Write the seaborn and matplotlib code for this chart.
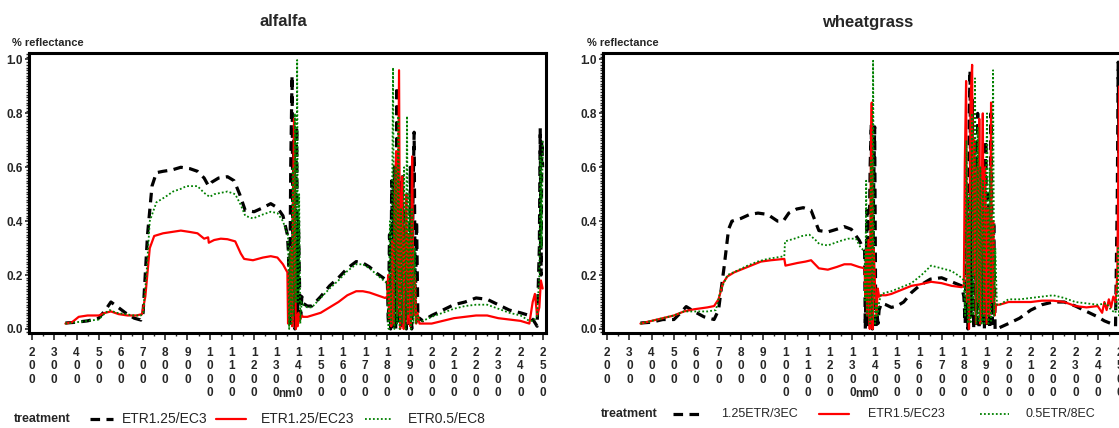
import matplotlib
matplotlib.use("Agg")
import matplotlib.pyplot as plt
import matplotlib.transforms as mtransforms
from matplotlib.lines import Line2D
from matplotlib.ticker import MultipleLocator
import seaborn as sns
import pandas as pd

# alfalfa - ETR1.25/EC3
alf_nm_1 = [350, 400, 450, 500, 530, 555, 580, 620, 660, 690, 700, 720, 740, 760, 790, 830, 870, 910, 945,
            975, 995, 1010, 1040, 1080, 1110, 1135, 1160, 1200, 1240, 1275, 1305, 1330, 1350,
            1355, 1360, 1365, 1371, 1375, 1380, 1384, 1388, 1392, 1396, 1400, 1405, 1410, 1415, 1421,
            1440, 1460, 1500, 1540, 1580, 1620, 1660, 1690, 1720, 1755, 1790,
            1800, 1805, 1810, 1815, 1820, 1826, 1832, 1838, 1844, 1850, 1856, 1862, 1868, 1874, 1880,
            1886, 1892, 1898, 1904, 1910, 1916, 1921, 1926, 1932, 1938, 1945,
            1960, 2000, 2050, 2100, 2150, 2200, 2250, 2300, 2350, 2400, 2440, 2460, 2475, 2485, 2489,
            2493, 2496, 2500]
alf_r_1 = [0.022, 0.025, 0.03, 0.04, 0.07, 0.10, 0.085, 0.06, 0.04, 0.033, 0.06, 0.35, 0.53, 0.58, 0.585,
           0.59, 0.60, 0.595, 0.585, 0.56, 0.53, 0.545, 0.56, 0.565, 0.55, 0.50, 0.44, 0.435, 0.45, 0.465,
           0.45, 0.42, 0.35,
           0.28, 0.02, 0.6, 0.94, 0.3, 0.7, 0.0, 0.5, 0.75, 0.02, 0.4, 0.15, 0.05, 0.12, 0.095,
           0.085, 0.085, 0.12, 0.16, 0.19, 0.225, 0.25, 0.245, 0.23, 0.205, 0.185,
           0.19, 0.02, 0.35, 0.0, 0.55, 0.01, 0.6, 0.0, 0.90, 0.02, 0.55, 0.0, 0.565, 0.02, 0.45,
           0.0, 0.3, 0.02, 0.6, 0.0, 0.5, 0.73, 0.05, 0.4, 0.03, 0.04,
           0.03, 0.05, 0.07, 0.09, 0.10, 0.115, 0.11, 0.09, 0.07, 0.06, 0.05, 0.03, 0.01, 0.3, 0.745,
           0.2, 0.7, 0.6]

# alfalfa - ETR1.25/EC23
alf_nm_2 = [350, 380, 410, 450, 500, 530, 555, 590, 630, 670, 695, 710, 730, 750, 790, 830, 870, 910, 945,
            975, 993, 996, 1020, 1050, 1080, 1115, 1140, 1155, 1195, 1240, 1275, 1305, 1330, 1350,
            1353, 1358, 1362, 1366, 1372, 1376, 1380, 1384, 1388, 1392, 1396, 1400, 1405, 1410, 1415, 1421,
            1440, 1460, 1500, 1540, 1580, 1620, 1660, 1690, 1720, 1755, 1790,
            1800, 1804, 1808, 1814, 1818, 1822, 1828, 1834, 1840, 1846, 1853, 1858, 1862, 1868, 1874,
            1880, 1886, 1892, 1898, 1904, 1908, 1912, 1918, 1924, 1930, 1936, 1945,
            1960, 2000, 2050, 2100, 2150, 2200, 2250, 2300, 2350, 2400, 2440, 2455, 2465, 2475, 2485,
            2492, 2500]
alf_r_2 = [0.02, 0.025, 0.045, 0.05, 0.05, 0.06, 0.065, 0.055, 0.05, 0.05, 0.055, 0.12, 0.30, 0.345, 0.355,
           0.36, 0.365, 0.36, 0.355, 0.335, 0.34, 0.32, 0.33, 0.335, 0.333, 0.325, 0.28, 0.26, 0.255, 0.265,
           0.27, 0.265, 0.24, 0.21,
           0.02, 0.2, 0.05, 0.3, 0.01, 0.5, 0.78, 0.3, 0.0, 0.05, 0.01, 0.06, 0.03, 0.04, 0.05, 0.045,
           0.045, 0.05, 0.06, 0.08, 0.10, 0.125, 0.14, 0.14, 0.135, 0.125, 0.115,
           0.12, 0.2, 0.04, 0.15, 0.01, 0.33, 0.02, 0.5, 0.66, 0.05, 0.96, 0.0, 0.4, 0.565, 0.0,
           0.3, 0.5, 0.02, 0.35, 0.01, 0.3, 0.64, 0.05, 0.2, 0.02, 0.06, 0.02,
           0.02, 0.02, 0.03, 0.04, 0.045, 0.05, 0.05, 0.04, 0.035, 0.03, 0.02, 0.1, 0.13, 0.05, 0.08,
           0.18, 0.15]

# alfalfa - ETR0.5/EC8
alf_nm_3 = [350, 400, 450, 500, 530, 550, 580, 620, 660, 690, 700, 715, 730, 760, 800, 835, 870, 895, 945,
            975, 1000, 1020, 1050, 1080, 1115, 1140, 1160, 1195, 1240, 1275, 1305, 1330, 1350,
            1353, 1358, 1363, 1368, 1374, 1378, 1384, 1389, 1394, 1398, 1403, 1408, 1414, 1421,
            1440, 1460, 1500, 1540, 1580, 1620, 1660, 1690, 1720, 1755, 1790,
            1800, 1806, 1812, 1818, 1826, 1832, 1838, 1844, 1850, 1856, 1862, 1868, 1876, 1882, 1889,
            1894, 1900, 1906, 1912, 1918, 1924, 1930, 1938, 1945,
            1960, 2000, 2050, 2100, 2150, 2200, 2250, 2300, 2350, 2400, 2440, 2460, 2475, 2485, 2490,
            2495, 2500]
alf_r_3 = [0.02, 0.025, 0.03, 0.035, 0.06, 0.07, 0.06, 0.055, 0.05, 0.05, 0.06, 0.20, 0.40, 0.47, 0.49,
           0.51, 0.52, 0.53, 0.53, 0.505, 0.49, 0.50, 0.505, 0.51, 0.50, 0.46, 0.42, 0.41, 0.425, 0.435,
           0.43, 0.40, 0.35,
           0.35, 0.0, 0.3, 0.02, 0.6, 0.05, 0.8, 0.1, 0.998, 0.1, 0.5, 0.02, 0.1, 0.09,
           0.08, 0.08, 0.115, 0.15, 0.18, 0.215, 0.24, 0.24, 0.225, 0.20, 0.175,
           0.17, 0.0, 0.4, 0.02, 0.97, 0.0, 0.6, 0.02, 0.79, 0.0, 0.45, 0.02, 0.6, 0.0, 0.79,
           0.05, 0.5, 0.0, 0.45, 0.02, 0.3, 0.02, 0.05, 0.03,
           0.03, 0.045, 0.06, 0.075, 0.085, 0.09, 0.09, 0.075, 0.06, 0.05, 0.03, 0.03, 0.05, 0.2, 0.64,
           0.3, 0.7]

# wheatgrass - 1.25ETR/3EC
wht_nm_1 = [350, 400, 450, 500, 530, 555, 590, 635, 680, 700, 725, 745, 760, 800, 840, 877, 920, 965, 990,
            1015, 1050, 1080, 1115, 1150, 1190, 1230, 1263, 1295, 1330, 1355,
            1358, 1362, 1366, 1370, 1375, 1380, 1385, 1390, 1395, 1400, 1405, 1410, 1415, 1420,
            1430, 1450, 1475, 1500, 1530, 1565, 1600, 1650, 1700, 1745, 1790,
            1800, 1806, 1812, 1818, 1824, 1828, 1832, 1838, 1844, 1850, 1856, 1862, 1868, 1874, 1880,
            1886, 1892, 1898, 1904, 1910, 1916, 1922, 1928, 1934, 1940, 1948,
            1960, 2000, 2050, 2100, 2150, 2200, 2250, 2300, 2350, 2400, 2430, 2460, 2480, 2488, 2492,
            2496, 2500]
wht_r_1 = [0.022, 0.025, 0.035, 0.035, 0.06, 0.083, 0.065, 0.045, 0.035, 0.07, 0.23, 0.37, 0.40, 0.41,
           0.425, 0.43, 0.425, 0.40, 0.40, 0.43, 0.445, 0.45, 0.44, 0.365, 0.36, 0.37, 0.38, 0.37, 0.33, 0.29,
           0.0, 0.2, 0.44, 0.0, 0.3, 0.61, 0.76, 0.0, 0.5, 0.75, 0.0, 0.06, 0.02, 0.07,
           0.095, 0.09, 0.08, 0.085, 0.10, 0.135, 0.16, 0.185, 0.19, 0.175, 0.16,
           0.12, 0.02, 0.5, 0.0, 0.8, 0.96, 0.05, 0.85, 0.0, 0.7, 0.02, 0.8, 0.0, 0.6, 0.03,
           0.56, 0.0, 0.7, 0.02, 0.5, 0.0, 0.8, 0.02, 0.4, 0.0, 0.01,
           0.005, 0.02, 0.04, 0.07, 0.09, 0.10, 0.10, 0.085, 0.065, 0.045, 0.03, 0.02, 0.01, 0.5, 0.99,
           0.6, 0.95]

# wheatgrass - ETR1.5/EC23
wht_nm_2 = [350, 400, 450, 500, 545, 590, 650, 680, 700, 720, 740, 770, 830, 890, 935, 995, 1000, 1055,
            1090, 1115, 1150, 1190, 1230, 1264, 1294, 1330, 1355,
            1358, 1362, 1366, 1372, 1378, 1383, 1387, 1391, 1396, 1402, 1408, 1414, 1420,
            1430, 1450, 1475, 1520, 1565, 1600, 1653, 1700, 1745, 1790,
            1800, 1804, 1810, 1814, 1818, 1823, 1830, 1837, 1842, 1848, 1854, 1860, 1865, 1869, 1874,
            1880, 1885, 1890, 1896, 1902, 1908, 1914, 1918, 1922, 1926, 1932, 1938, 1945,
            1960, 2000, 2050, 2100, 2150, 2200, 2250, 2300, 2350, 2400, 2420, 2430, 2440, 2450, 2460,
            2470, 2480, 2488, 2492, 2496, 2500]
wht_r_2 = [0.02, 0.03, 0.04, 0.05, 0.065, 0.073, 0.08, 0.085, 0.11, 0.17, 0.195, 0.21, 0.23, 0.25, 0.255,
           0.26, 0.235, 0.245, 0.25, 0.255, 0.225, 0.22, 0.23, 0.24, 0.24, 0.23, 0.225,
           0.12, 0.3, 0.05, 0.33, 0.0, 0.6, 0.84, 0.0, 0.3, 0.15, 0.05, 0.15, 0.12,
           0.125, 0.125, 0.13, 0.145, 0.16, 0.165, 0.175, 0.17, 0.16, 0.155,
           0.16, 0.6, 0.92, 0.1, 0.4, 0.0, 0.85, 0.98, 0.2, 0.7, 0.02, 0.6, 0.1, 0.78, 0.02,
           0.5, 0.8, 0.05, 0.6, 0.02, 0.45, 0.05, 0.3, 0.84, 0.1, 0.4, 0.05, 0.09,
           0.09, 0.10, 0.10, 0.10, 0.105, 0.105, 0.10, 0.085, 0.08, 0.085, 0.06, 0.10, 0.07, 0.11, 0.08,
           0.12, 0.10, 0.2, 0.54, 0.9, 0.3]

# wheatgrass - 0.5ETR/8EC
wht_nm_3 = [350, 400, 450, 500, 545, 590, 650, 688, 710, 740, 780, 830, 875, 920, 995, 998, 1040, 1075,
            1107, 1135, 1152, 1190, 1240, 1280, 1316, 1338, 1355,
            1358, 1362, 1366, 1372, 1378, 1383, 1389, 1393, 1397, 1402, 1408, 1414, 1420,
            1430, 1450, 1475, 1520, 1565, 1610, 1653, 1700, 1745, 1790,
            1800, 1806, 1812, 1818, 1824, 1830, 1836, 1842, 1850, 1856, 1862, 1868, 1874, 1880, 1886,
            1892, 1898, 1904, 1910, 1916, 1922, 1931, 1936, 1941, 1948,
            1960, 2000, 2050, 2100, 2150, 2200, 2250, 2300, 2350, 2400, 2440, 2460, 2480, 2488, 2492,
            2496, 2500]
wht_r_3 = [0.02, 0.03, 0.04, 0.05, 0.065, 0.065, 0.065, 0.07, 0.145, 0.20, 0.215, 0.235, 0.25, 0.26, 0.27,
           0.325, 0.335, 0.345, 0.35, 0.33, 0.315, 0.31, 0.325, 0.335, 0.335, 0.30, 0.29,
           0.1, 0.55, 0.05, 0.3, 0.02, 0.625, 0.03, 0.995, 0.2, 0.02, 0.1, 0.05, 0.1,
           0.13, 0.135, 0.14, 0.155, 0.17, 0.20, 0.235, 0.225, 0.215, 0.19,
           0.18, 0.05, 0.7, 0.02, 0.5, 0.02, 0.8, 0.05, 0.93, 0.02, 0.75, 0.03, 0.6, 0.02, 0.55,
           0.02, 0.5, 0.8, 0.02, 0.6, 0.03, 0.96, 0.05, 0.3, 0.09,
           0.09, 0.11, 0.11, 0.115, 0.12, 0.125, 0.115, 0.10, 0.095, 0.09, 0.095, 0.07, 0.06, 0.15, 0.3,
           0.05, 0.2]

alf_labels = ["ETR1.25/EC3", "ETR1.25/EC23", "ETR0.5/EC8"]
wht_labels = ["1.25ETR/3EC", "ETR1.5/EC23", "0.5ETR/8EC"]
x_ticks = list(range(200, 2600, 100))

W, H = 1119, 428
sns.set_style("white")
plt.rcParams['font.family'] = ['Liberation Sans', 'DejaVu Sans']

styles = [dict(color="black", lw=2.3, ls=(0, (3, 2))),
          dict(color="#ff0000", lw=1.6, ls="-"),
          dict(color="#008000", lw=1.3, ls=(0, (1, 1.2)))]


def panel(ax, series, labels, xlim):
    rows = []
    for (nm, r), lab in zip(series, labels):
        rows.append(pd.DataFrame({"nm": nm, "refl": r, "treatment": lab}))
    df = pd.concat(rows)
    for lab, st in zip(labels, styles):
        sns.lineplot(data=df[df.treatment == lab], x="nm", y="refl", ax=ax, estimator=None,
                     sort=False, color=st["color"], lw=st["lw"], linestyle=st["ls"], legend=False)
    ax.set_xlim(*xlim)
    ax.set_ylim(-0.015, 1.024)
    ax.set_xticks(x_ticks)
    ax.set_xticklabels(["\n".join(str(v)) for v in x_ticks], fontsize=8.5, linespacing=1.15,
                       fontweight="bold")
    ax.xaxis.set_minor_locator(MultipleLocator(50))
    ax.set_yticks([0, 0.2, 0.4, 0.6, 0.8, 1.0])
    ax.set_yticklabels(["0.0", "0.2", "0.4", "0.6", "0.8", "1.0"], fontsize=8.5, fontweight="bold")
    ax.yaxis.set_minor_locator(MultipleLocator(0.01))
    ax.tick_params(axis="x", which="major", direction="out", length=5, width=1.2, pad=5, bottom=True)
    ax.tick_params(axis="x", which="minor", direction="out", length=2.5, width=1.0, bottom=True)
    ax.tick_params(axis="y", which="major", direction="out", length=3, width=1.2, pad=1.5, left=True)
    ax.tick_params(axis="y", which="minor", direction="out", length=2, width=1.0, left=True)
    ax.set_xlabel("")
    ax.set_ylabel("")
    for s in ax.spines.values():
        s.set_linewidth(2.2)
        s.set_color("black")
    # "nm" sits between the 1300 and 1400 tick columns
    trans = mtransforms.blended_transform_factory(ax.transData, fig.transFigure)
    ax.text(1350, 1 - 394 / H, "nm", transform=trans, ha="center", va="center", fontsize=8.5,
            fontweight="bold")


fig = plt.figure(figsize=(W / 100, H / 100), dpi=100)
ax1 = fig.add_axes([29 / W, 1 - 333 / H, (546 - 29) / W, (333 - 53) / H])
ax2 = fig.add_axes([603 / W, 1 - 333 / H, (1122 - 603) / W, (333 - 53) / H])

panel(ax1, [(alf_nm_1, alf_r_1), (alf_nm_2, alf_r_2), (alf_nm_3, alf_r_3)], alf_labels, (186, 2515))
panel(ax2, [(wht_nm_1, wht_r_1), (wht_nm_2, wht_r_2), (wht_nm_3, wht_r_3)], wht_labels, (182, 2509))

fig.text(283 / W, 1 - 22 / H, "alfalfa", ha="center", va="center", fontsize=12, fontweight="bold")
fig.text(868 / W, 1 - 22 / H, "wheatgrass", ha="center", va="center", fontsize=12, fontweight="bold")
for x0 in (12, 587):
    fig.text(x0 / W, 1 - 43 / H, "% reflectance", ha="left", va="center", fontsize=8, fontweight="bold")

# legend rows: "treatment" then a line sample and a label per treatment (pixel positions)
legend_rows = [
    (14, 419, 10, alf_labels, [(90, 113), (216, 246), (365, 392)], [122, 261, 408]),
    (601, 414, 9, wht_labels, [(673, 699), (819, 849), (980, 1009)], [721, 868, 1026]),
]
for x_t, y, fs, labs, segs, lxs in legend_rows:
    yf = 1 - y / H
    fig.text(x_t / W, yf, "treatment", ha="left", va="center", fontsize=9, fontweight="bold")
    for lab, (h0, h1), lx, st in zip(labs, segs, lxs, styles):
        fig.add_artist(Line2D([h0 / W, h1 / W], [yf, yf], transform=fig.transFigure,
                              color=st["color"], lw=st["lw"], linestyle=st["ls"]))
        fig.text(lx / W, yf, lab, ha="left", va="center", fontsize=fs)

fig.savefig("out.png", dpi=100)
